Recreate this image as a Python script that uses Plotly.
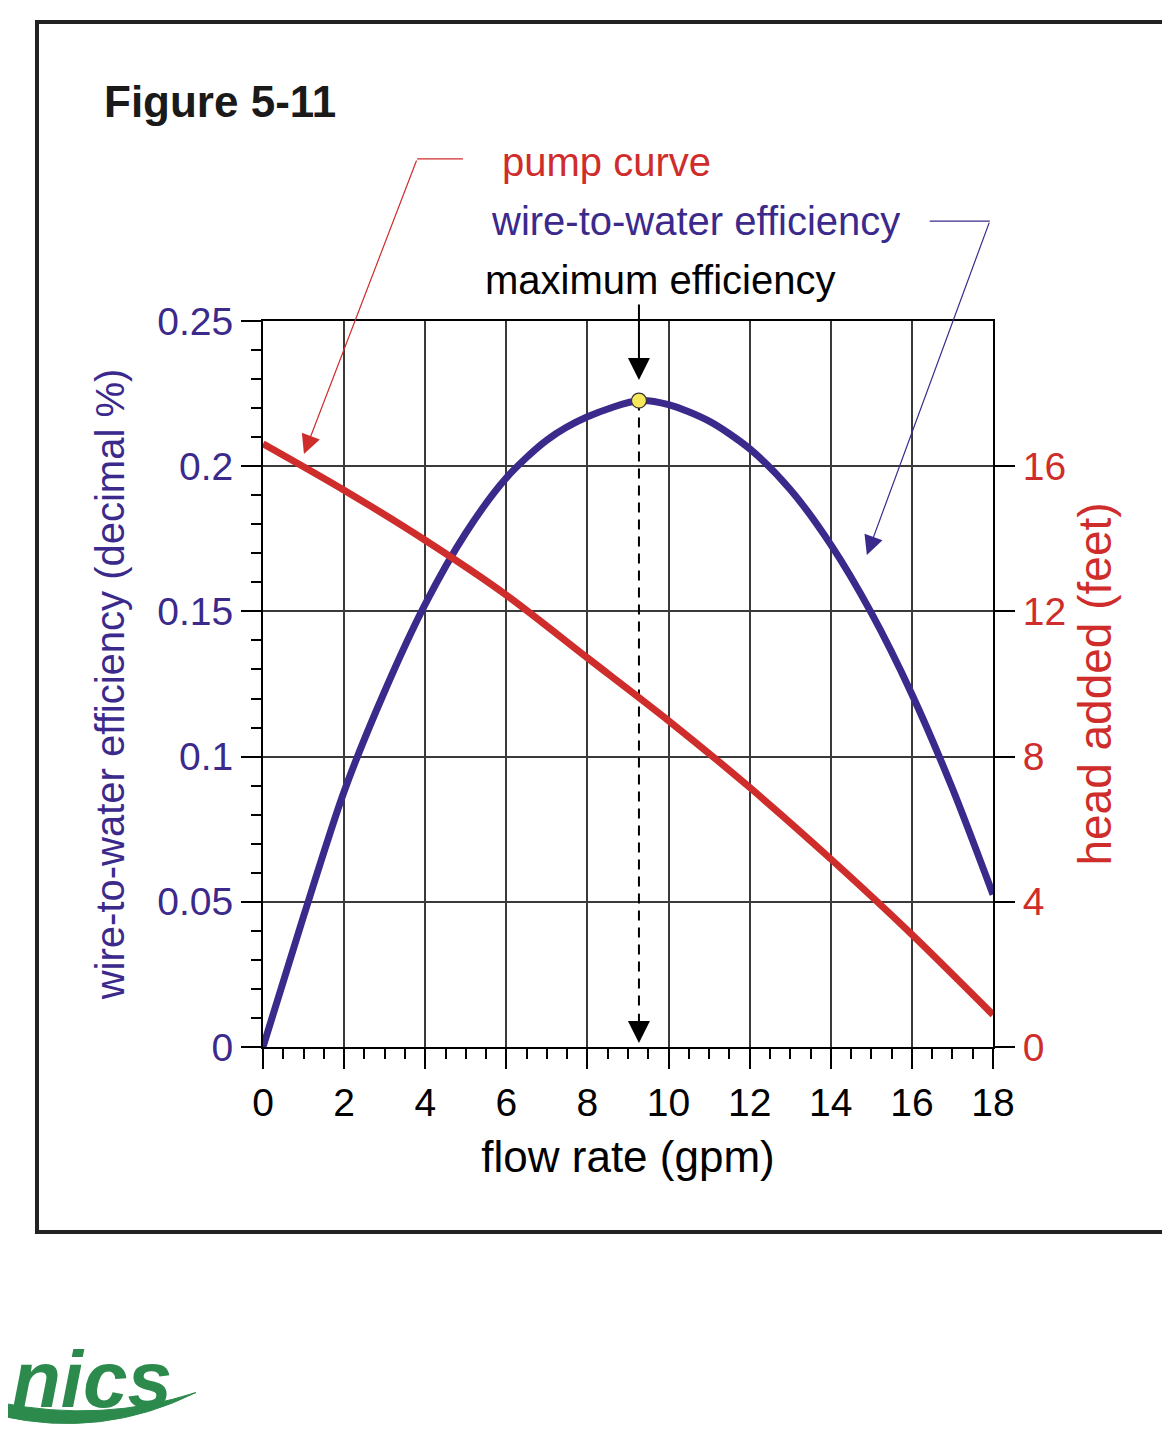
import plotly.graph_objects as go

# flow rate (gpm) vs wire-to-water efficiency
eff_flow = [0, 1, 2, 3, 4, 5, 6, 7, 8, 9.27, 10, 11, 12, 13, 14, 15, 16, 17, 18]
efficiency = [0, 0.045, 0.088, 0.1225, 0.1525, 0.177, 0.196, 0.209, 0.217, 0.2226,
              0.2212, 0.2155, 0.2060, 0.1920, 0.1730, 0.1495, 0.1215, 0.0890, 0.0525]

# pump curve: flow rate (gpm) vs head added (feet)
pump_flow = [0, 2, 4, 6, 8, 10, 12, 14, 16, 18]
head_ft = [16.62, 15.34, 13.96, 12.45, 10.72, 8.99, 7.15, 5.18, 3.10, 0.89]

# point of maximum efficiency
max_flow = 9.27
max_eff = 0.2226

x_ticks = [0, 2, 4, 6, 8, 10, 12, 14, 16, 18]
left_ticks = [0, 0.05, 0.1, 0.15, 0.2, 0.25]
right_ticks = [0, 4, 8, 12, 16]

BLUE = '#3b2a8c'
RED = '#cf2d2b'
GREEN = '#2b8a4c'
FONT = 'Liberation Sans, Arial, Helvetica, sans-serif'

fig = go.Figure()

# dashed drop line from the max point to the axis
fig.add_trace(go.Scatter(x=[max_flow, max_flow], y=[max_eff, 0.012], mode='lines',
                         line=dict(color='black', width=2, dash='10px,7px'),
                         showlegend=False, hoverinfo='skip'))

fig.add_trace(go.Scatter(x=pump_flow, y=head_ft, yaxis='y2', mode='lines',
                         line=dict(color=RED, width=7, shape='spline', smoothing=0.8),
                         name='pump curve', showlegend=False))

fig.add_trace(go.Scatter(x=eff_flow, y=efficiency, mode='lines',
                         line=dict(color=BLUE, width=7, shape='spline', smoothing=0.8),
                         name='wire-to-water efficiency', showlegend=False))

fig.add_trace(go.Scatter(x=[max_flow], y=[max_eff], mode='markers',
                         marker=dict(color='#f6e85a', size=15,
                                     line=dict(color='#333333', width=1.2)),
                         showlegend=False, cliponaxis=False))

# Titles and labels
anns = [
    dict(text='<b>Figure 5-11</b>', x=-0.2205, y=1.303, xanchor='left',
         font=dict(size=44, color='#1a1a1a')),
    dict(text='pump curve', x=0.470, y=1.219, font=dict(size=40, color=RED)),
    dict(text='wire-to-water efficiency', x=0.592, y=1.138, font=dict(size=40, color=BLUE)),
    dict(text='maximum efficiency', x=0.544, y=1.056, font=dict(size=40, color='black')),
    dict(text='<b><i>nics</i></b>', x=-0.122, y=-0.458, xanchor='right',
         font=dict(size=80, color=GREEN)),
]
for a in anns:
    a.update(xref='paper', yref='paper', showarrow=False, yanchor='middle')
    a.setdefault('xanchor', 'center')
    fig.add_annotation(**a)

# Arrows
arrows = [
    # pump curve leader
    dict(x=1.01, y=0.2042, ax=3.80, ay=0.3058, arrowcolor=RED, arrowwidth=1.2, arrowsize=3.2),
    # efficiency leader
    dict(x=14.89, y=0.1694, ax=17.92, ay=0.2844, arrowcolor=BLUE, arrowwidth=1.2, arrowsize=3.2),
    # maximum efficiency
    dict(x=max_flow, y=0.2297, ax=max_flow, ay=0.2562, arrowcolor='black', arrowwidth=2,
         arrowsize=2.2),
    # end of dashed drop line
    dict(x=max_flow, y=0.0014, ax=max_flow, ay=0.012, arrowcolor='black', arrowwidth=2,
         arrowsize=2.2),
]
for a in arrows:
    fig.add_annotation(xref='x', yref='y', axref='x', ayref='y', text='',
                       showarrow=True, arrowhead=2, **a)

# horizontal parts of the leaders, in paper units (gpm/18, eff/0.25)
fig.add_shape(type='line', xref='paper', yref='paper', x0=3.80 / 18, x1=4.93 / 18,
              y0=0.3058 / 0.25, y1=0.3058 / 0.25, line=dict(color=RED, width=1.2))
fig.add_shape(type='line', xref='paper', yref='paper', x0=16.44 / 18, x1=17.92 / 18,
              y0=0.2844 / 0.25, y1=0.2844 / 0.25, line=dict(color=BLUE, width=1.2))

# outer frame
fig.add_shape(type='rect', xref='paper', yref='paper', x0=-0.3096, x1=1.25,
              y0=-0.2548, y1=1.4118, line=dict(color='#222222', width=4), layer='below')

# logo swoosh under "nics"
fig.add_shape(type='path', xref='paper', yref='paper', layer='below',
              path='M -0.36,-0.508 Q -0.22,-0.54 -0.092,-0.476 Q -0.22,-0.518 -0.36,-0.49 Z',
              fillcolor=GREEN, line=dict(color=GREEN, width=1))

grid = '#3a3a3a'
fig.update_layout(
    width=1170, height=1434,
    margin=dict(l=255, r=185, t=313, b=395),
    paper_bgcolor='white', plot_bgcolor='white',
    font=dict(family=FONT),
    xaxis=dict(range=[0, 18], tickvals=x_ticks, ticks='outside', ticklen=20,
               tickwidth=1.5, tickcolor='black', ticklabelstandoff=0,
               showgrid=True, gridcolor=grid, gridwidth=1.5, zeroline=False,
               showline=True, linecolor='black', linewidth=2, mirror=True,
               minor=dict(dtick=0.5, ticks='outside', ticklen=10, tickcolor='black',
                          tickwidth=1.5, showgrid=False),
               tickfont=dict(size=39, color='black'),
               title=dict(text='flow rate (gpm)', font=dict(size=44, color='black'),
                          standoff=18)),
    yaxis=dict(range=[0, 0.25], tickvals=left_ticks, ticks='outside', ticklen=20,
               tickwidth=1.5, tickcolor='black', ticklabelstandoff=0,
               showgrid=True, gridcolor=grid, gridwidth=1.5, zeroline=False,
               showline=True, linecolor='black', linewidth=2, mirror=True,
               minor=dict(dtick=0.01, ticks='outside', ticklen=10, tickcolor='black',
                          tickwidth=1.5, showgrid=False),
               tickfont=dict(size=39, color=BLUE),
               title=dict(text='wire-to-water efficiency (decimal %)',
                          font=dict(size=40, color=BLUE), standoff=20)),
    yaxis2=dict(range=[0, 20], overlaying='y', side='right', tickvals=right_ticks,
                ticks='outside', ticklen=20, tickwidth=1.5, tickcolor='black',
                ticklabelstandoff=0, showgrid=False, zeroline=False,
                showline=True, linecolor='black', linewidth=2,
                tickfont=dict(size=39, color=RED),
                title=dict(text='head added (feet)', font=dict(size=46, color=RED),
                           standoff=14)),
)

fig.write_html("out.html")
